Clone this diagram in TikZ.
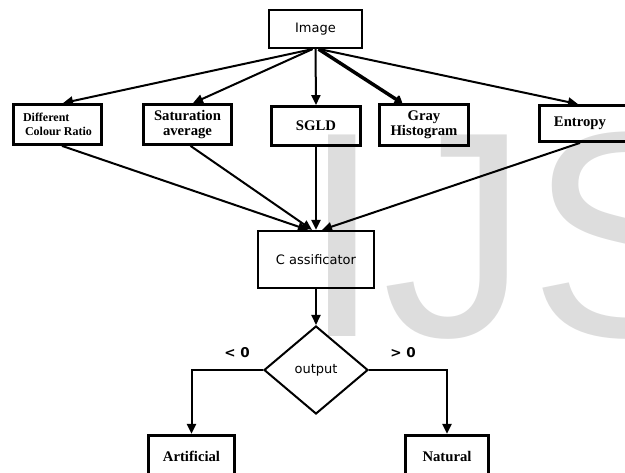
\documentclass[tikz,border=0pt]{standalone}
\usepackage{fontspec}
\setmainfont{Liberation Serif}
\newfontfamily\dvs{DejaVu Sans}
\newfontfamily\wmfont{Liberation Sans}
\usetikzlibrary{arrows.meta,shapes.geometric}
\definecolor{wmgray}{RGB}{221,221,221}
\begin{document}
\begin{tikzpicture}[x=1pt,y=-1pt,
  box/.style={draw, line width=2.8pt, inner sep=0pt, align=center,
    font=\bfseries\fontsize{14.7}{15}\selectfont},
  sbox/.style={draw, line width=2.2pt, inner sep=0pt,
    font=\dvs\fontsize{13}{15}\selectfont},
  arr/.style={line width=2pt, -{Triangle[length=10pt,width=9pt]}},
  lbl/.style={inner sep=0pt, font=\dvs\bfseries\fontsize{13.5}{15}\selectfont},
]
\useasboundingbox (0,0) rectangle (625,473);
\node[anchor=base west, inner sep=0pt, text=wmgray,
  font=\wmfont\fontsize{293}{293}\selectfont] (wmark) at (301,337) {IJS};

\node[sbox, minimum width=93pt, minimum height=38pt] (img) at (315.5,29) {Image};
\node[box, minimum width=88pt, minimum height=40pt,
  font=\bfseries\fontsize{12}{14}\selectfont, align=left] (dcr) at (57.5,124.5) {Different\\\hspace*{2pt}Colour Ratio};
\node[box, minimum width=88pt, minimum height=40pt] (sat) at (187.5,124.5) {Saturation\\average};
\node[box, minimum width=89pt, minimum height=39pt] (sgld) at (316,126) {SGLD};
\node[box, minimum width=89pt, minimum height=41pt] (gh) at (424,125) {Gray\\Histogram};
\node[box, minimum width=91pt, minimum height=36pt] (ent) at (585,123.5) {Entropy\hspace*{10pt}};
\node[sbox, minimum width=116pt, minimum height=57pt] (cls) at (316,259.5) {C assificator};
\node[draw, diamond, line width=2pt, inner sep=0pt, aspect=1.18,
  minimum width=104pt, minimum height=88pt,
  font=\dvs\fontsize{13}{15}\selectfont] (out) at (316,370) {output};
\node[box, line width=3.2pt, minimum width=86pt, minimum height=41pt] (art) at (191.5,456) {Artificial};
\node[box, line width=3.2pt, minimum width=83pt, minimum height=41pt] (nat) at (447,456) {Natural};

\draw[arr] ([xshift=-3pt]img.south) -- ([xshift=5.5pt]dcr.north);
\draw[arr] ([xshift=-3pt]img.south) -- ([xshift=5.5pt]sat.north);
\draw[arr] (img.south) -- (sgld.north);
\draw[line width=3.5pt, -{Triangle[round,length=8pt,width=11pt]}] ([xshift=3pt]img.south) -- ([xshift=-22pt]gh.north);
\draw[arr] ([xshift=4pt]img.south) -- ([xshift=-7pt]ent.north);

\draw[arr] ([xshift=4.5pt]dcr.south) -- ([xshift=-8pt]cls.north);
\draw[arr] ([xshift=3pt]sat.south) -- ([xshift=-4pt]cls.north);
\draw[arr] (sgld.south) -- (cls.north);
\draw[arr] ([xshift=-5pt]ent.south) -- ([xshift=6pt]cls.north);

\draw[arr] (cls.south) -- (out.north);
\draw[arr] (out.west) -| (art.north);
\draw[arr] (out.east) -| (nat.north);

\node[lbl] (lt) at (237,353) {< 0};
\node[lbl] (gt) at (403,353) {> 0};
\end{tikzpicture}
\end{document}
